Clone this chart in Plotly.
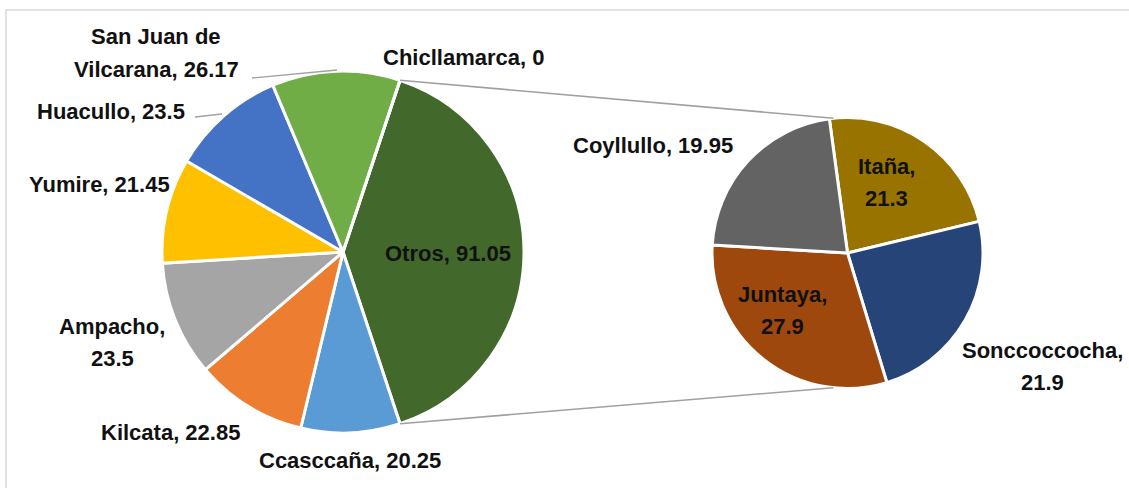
import math
import plotly.graph_objects as go

# ---------------- data ----------------
main_labels = ["Otros", "Ccasccaña", "Kilcata", "Ampacho", "Yumire", "Huacullo",
               "San Juan de Vilcarana", "Chicllamarca"]
main_values = [91.05, 20.25, 22.85, 23.5, 21.45, 23.5, 26.17, 0]
main_colors = ["#43682B", "#5B9BD5", "#ED7D31", "#A5A5A5", "#FFC000", "#4472C4",
               "#70AD47", "#264478"]

sub_labels = ["Itaña", "Sonccoccocha", "Juntaya", "Coyllullo"]
sub_values = [21.3, 21.9, 27.9, 19.95]
sub_colors = ["#997300", "#264478", "#9E480E", "#636363"]

# ---------------- layout helpers ----------------
W, H = 1129, 488


def px(x, y):
    return x / W, 1 - y / H


# pie geometry (pixels)
c1, r1 = (343, 252), 181
c2, r2 = (847.5, 253), 135.5

fig = go.Figure()

total = sum(main_values)
otros_share = main_values[0] / total
rot1 = 90 - 180 * otros_share

fig.add_trace(go.Pie(
    labels=main_labels, values=main_values, sort=False, direction="clockwise",
    rotation=rot1, marker=dict(colors=main_colors, line=dict(color="white", width=3)),
    textinfo="none", hoverinfo="none", showlegend=False,
    domain=dict(x=[(c1[0] - r1) / W, (c1[0] + r1) / W],
                y=[1 - (c1[1] + r1) / H, 1 - (c1[1] - r1) / H]),
))
fig.add_trace(go.Pie(
    labels=sub_labels, values=sub_values, sort=False, direction="clockwise",
    rotation=-7.7, marker=dict(colors=sub_colors, line=dict(color="white", width=3)),
    textinfo="none", hoverinfo="none", showlegend=False,
    domain=dict(x=[(c2[0] - r2) / W, (c2[0] + r2) / W],
                y=[1 - (c2[1] + r2) / H, 1 - (c2[1] - r2) / H]),
))

shapes = []
# outer frame
shapes.append(dict(type="rect", xref="paper", yref="paper",
                   x0=6 / W, y0=-0.1, x1=1.1, y1=1 - 10 / H,
                   line=dict(color="#d9d9d9", width=1.5), fillcolor="rgba(0,0,0,0)"))

# connector lines between pies
half = math.radians(180 * otros_share)
a_top = math.radians(90) - half
a_bot = math.radians(90) + half
p1t = (c1[0] + r1 * math.sin(a_top), c1[1] - r1 * math.cos(a_top))
p1b = (c1[0] + r1 * math.sin(a_bot), c1[1] - r1 * math.cos(a_bot))
b_top = math.radians(-6)
b_bot = math.radians(186)
p2t = (c2[0] + r2 * math.sin(b_top), c2[1] - r2 * math.cos(b_top))
p2b = (c2[0] + r2 * math.sin(b_bot), c2[1] - r2 * math.cos(b_bot))
for a, b in [(p1t, p2t), (p1b, p2b)]:
    x0, y0 = px(*a)
    x1, y1 = px(*b)
    shapes.append(dict(type="line", xref="paper", yref="paper", x0=x0, y0=y0, x1=x1, y1=y1,
                       line=dict(color="#a0a0a0", width=1.6)))

# leader lines
for a, b in [((252, 78), (337, 70)), ((195, 117), (222, 114))]:
    x0, y0 = px(*a)
    x1, y1 = px(*b)
    shapes.append(dict(type="line", xref="paper", yref="paper", x0=x0, y0=y0, x1=x1, y1=y1,
                       line=dict(color="#a0a0a0", width=1.3)))

# label text and positions
breaks = {"San Juan de Vilcarana": ("San Juan de", "Vilcarana, {v}")}
wrap_after_comma = {"Ampacho", "Itaña", "Juntaya", "Sonccoccocha"}


def label_lines(name, v):
    vs = f"{v:g}"
    if name in breaks:
        a, b = breaks[name]
        return [a, b.format(v=vs)]
    if name in wrap_after_comma:
        return [f"{name},", vs]
    return [f"{name}, {vs}"]


label_pos = {
    "Otros": (448, 253), "Ccasccaña": (350, 460), "Kilcata": (170, 432),
    "Ampacho": (112, 342), "Yumire": (99, 184), "Huacullo": (111, 111),
    "San Juan de Vilcarana": (156, 53), "Chicllamarca": (464, 58),
    "Itaña": (886, 182), "Sonccoccocha": (1042, 366), "Juntaya": (782, 310),
    "Coyllullo": (653, 145),
}
LINE_GAP = 32

annotations = []
for names, vals in [(main_labels, main_values), (sub_labels, sub_values)]:
    for n, v in zip(names, vals):
        lines = label_lines(n, v)
        cx, cy = label_pos[n]
        y_start = cy - LINE_GAP * (len(lines) - 1) / 2
        for i, ln in enumerate(lines):
            x, y = px(cx, y_start + i * LINE_GAP)
            annotations.append(dict(
                text=ln, x=x, y=y, xref="paper", yref="paper",
                showarrow=False, xanchor="center", yanchor="middle", align="center",
                font=dict(family="Liberation Sans", size=22, color="#111111", weight="bold"),
            ))

fig.update_layout(
    width=W, height=H, margin=dict(l=0, r=0, t=0, b=0),
    paper_bgcolor="white", plot_bgcolor="white",
    shapes=shapes, annotations=annotations,
)

fig.write_html("out.html", config={"displayModeBar": False},
               post_script="document.body.style.margin='0';")
